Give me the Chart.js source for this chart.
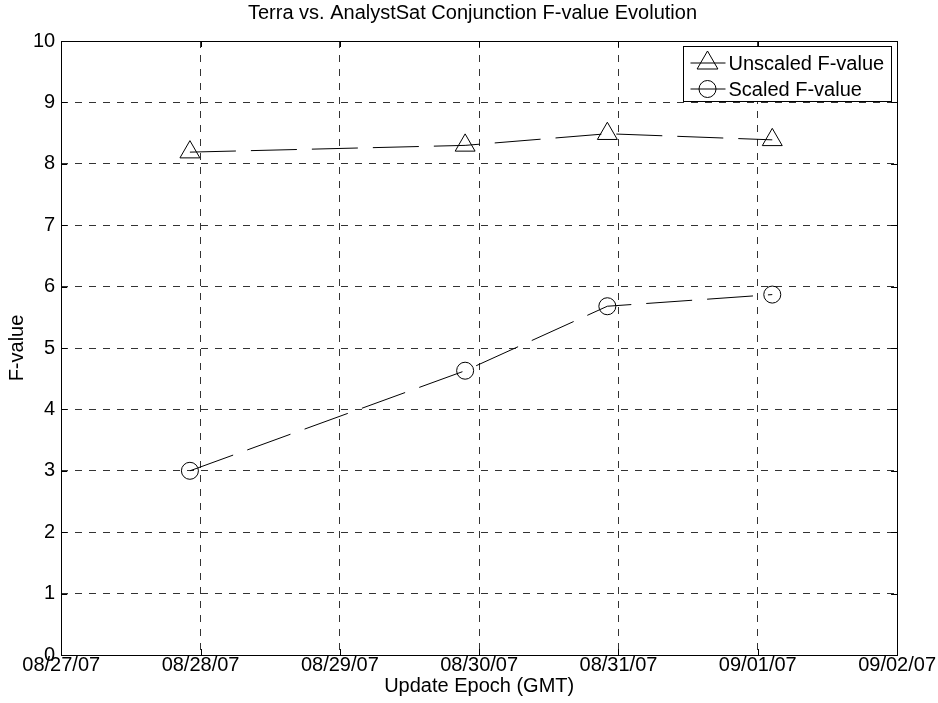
<!DOCTYPE html>
<html>
<head>
<meta charset="utf-8">
<title>Terra vs. AnalystSat Conjunction F-value Evolution</title>
<script src="https://cdn.jsdelivr.net/npm/chart.js@4/dist/chart.umd.min.js"></script>
<style>
  html, body { margin: 0; padding: 0; background: #fff; }
  #wrap { width: 938px; height: 703px; }
</style>
</head>
<body>
<div id="wrap"><canvas id="fvalueChart" width="938" height="703"></canvas></div>
<script>
'use strict';

/* #################### chart data #################### */
let dateTicks = ['08/27/07', '08/28/07', '08/29/07', '08/30/07', '08/31/07', '09/01/07', '09/02/07'];
let axisStart = '2007-08-27T00:00';
let updateEpochs = ['2007-08-27T22:10', '2007-08-29T21:35', '2007-08-30T22:05', '2007-09-01T02:30'];
let unscaledF = [8.19, 8.30, 8.49, 8.39];
let scaledF = [3.00, 4.63, 5.68, 5.87];
let fTicks = [0, 1, 2, 3, 4, 5, 6, 7, 8, 9, 10];

const FONT = "'Liberation Sans', Arial, Helvetica, sans-serif";
Chart.defaults.font.family = FONT;
Chart.defaults.color = '#000';

//  epoch strings -> days since the first axis date
function daysFromStart(stamp) {
  return (Date.parse(stamp + 'Z') - Date.parse(axisStart + 'Z')) / 86400000;
}

let epochDays = updateEpochs.map(daysFromStart);

function toPoints(values) {
  return values.map((v, idx) => ({ x: epochDays[idx], y: v }));
}

//  marker shapes drawn the same way chart.js draws its point styles
function drawMarker(ctx, style, r, x, y) {
  ctx.beginPath();
  if (style === 'triangle') {
    let rad = 0;
    ctx.moveTo(x + Math.sin(rad) * r, y - Math.cos(rad) * r);
    rad += 2 * Math.PI / 3;
    ctx.lineTo(x + Math.sin(rad) * r, y - Math.cos(rad) * r);
    rad += 2 * Math.PI / 3;
    ctx.lineTo(x + Math.sin(rad) * r, y - Math.cos(rad) * r);
    ctx.closePath();
  } else {
    ctx.arc(x, y, r, 0, Math.PI * 2);
  }
  ctx.stroke();
}

/* axes box, inward tick marks and the boxed legend */
const frameAndLegend = {
  id: 'frameAndLegend',
  afterDatasetsDraw(chart) {
    const ctx = chart.ctx;
    const area = chart.chartArea;
    const xs = chart.scales.x;
    const ys = chart.scales.y;
    const tickLen = 6;

    ctx.save();
    ctx.setLineDash([]);
    ctx.strokeStyle = '#000';
    ctx.lineWidth = 1;

    //  tick marks pointing into the plot
    ctx.beginPath();
    xs.ticks.forEach(t => {
      const px = Math.round(xs.getPixelForValue(t.value)) + 0.5;
      ctx.moveTo(px, area.bottom); ctx.lineTo(px, area.bottom - tickLen);
      ctx.moveTo(px, area.top); ctx.lineTo(px, area.top + tickLen);
    });
    ys.ticks.forEach(t => {
      const py = Math.round(ys.getPixelForValue(t.value)) + 0.5;
      ctx.moveTo(area.left, py); ctx.lineTo(area.left + tickLen, py);
      ctx.moveTo(area.right, py); ctx.lineTo(area.right - tickLen, py);
    });
    ctx.stroke();

    //  box round the plot
    ctx.strokeRect(Math.round(area.left) + 0.5, Math.round(area.top) + 0.5,
      Math.round(area.right - area.left), Math.round(area.bottom - area.top));

    //  legend in the top right corner
    ctx.font = '20px ' + FONT;
    const sets = chart.data.datasets;
    let textW = 0;
    sets.forEach(ds => { textW = Math.max(textW, ctx.measureText(ds.label).width); });
    const rowH = 25.6;
    const boxW = Math.round(45 + textW + 7);
    const boxH = 55;
    const boxX = Math.round(area.right - 6 - boxW) + 0.5;
    const boxY = Math.round(area.top + 5) + 0.5;
    ctx.fillStyle = '#fff';
    ctx.fillRect(boxX, boxY, boxW, boxH);
    ctx.strokeRect(boxX, boxY, boxW, boxH);

    ctx.textBaseline = 'middle';
    ctx.fillStyle = '#000';
    sets.forEach((ds, idx) => {
      const cy = Math.round(boxY + 16.5 + idx * rowH);
      ctx.beginPath();
      ctx.moveTo(boxX + 7, cy);
      ctx.lineTo(boxX + 42, cy);
      ctx.stroke();
      drawMarker(ctx, ds.pointStyle, ds.pointStyle === 'triangle' ? 12 : 8.5, boxX + 24, cy);
      ctx.fillText(ds.label, boxX + 45, cy + 1);
    });
    ctx.restore();
  }
};

const data = {
  datasets: [{
    label: 'Unscaled F-value',
    data: toPoints(unscaledF),
    borderColor: '#000',
    borderWidth: 1,
    borderDash: [46, 15],
    pointStyle: 'triangle',
    pointRadius: 11.5,
    pointBorderColor: '#000',
    pointBackgroundColor: 'rgba(0,0,0,0)',
    pointBorderWidth: 1,
    fill: false,
    tension: 0
  },
  {
    label: 'Scaled F-value',
    data: toPoints(scaledF),
    borderColor: '#000',
    borderWidth: 1,
    borderDash: [46, 15],
    pointStyle: 'circle',
    pointRadius: 8.5,
    pointBorderColor: '#000',
    pointBackgroundColor: 'rgba(0,0,0,0)',
    pointBorderWidth: 1,
    fill: false,
    tension: 0
  }]
};

const config = {
  type: 'line',
  data: data,
  plugins: [frameAndLegend],
  options: {
    responsive: false,
    animation: false,
    layout: { padding: { left: 7, right: 0, top: 1, bottom: 7 } },
    plugins: {
      legend: { display: false },
      tooltip: { enabled: false },
      title: {
        display: true,
        text: 'Terra vs. AnalystSat Conjunction F-value Evolution',
        color: '#000',
        font: { size: 20, weight: 'normal', lineHeight: 1.2 },
        padding: { top: 0, bottom: 16 }
      }
    },
    scales: {
      x: {
        type: 'linear',
        min: 0,
        max: dateTicks.length - 1,
        ticks: {
          stepSize: 1,
          autoSkip: false,
          maxRotation: 0,
          padding: 2,
          color: '#000',
          font: { size: 20, lineHeight: 0.85 },
          callback: value => dateTicks[value]
        },
        grid: { color: '#333', lineWidth: 1, drawTicks: false },
        border: { display: false, dash: [7, 7] },
        title: {
          display: true,
          text: 'Update Epoch (GMT)',
          color: '#000',
          font: { size: 20, lineHeight: 1 },
          padding: { top: 0, bottom: 0 }
        }
      },
      y: {
        min: fTicks[0],
        max: fTicks[fTicks.length - 1],
        afterBuildTicks: scale => { scale.ticks = fTicks.map(v => ({ value: v })); },
        ticks: {
          padding: 6,
          color: '#000',
          font: { size: 20 }
        },
        grid: { color: '#333', lineWidth: 1, drawTicks: false },
        border: { display: false, dash: [7, 7] },
        title: {
          display: true,
          text: 'F-value',
          color: '#000',
          font: { size: 20, lineHeight: 1 },
          padding: { top: 0, bottom: 0 }
        }
      }
    }
  }
};

const fChart = new Chart(document.getElementById('fvalueChart'), config);
</script>
</body>
</html>
